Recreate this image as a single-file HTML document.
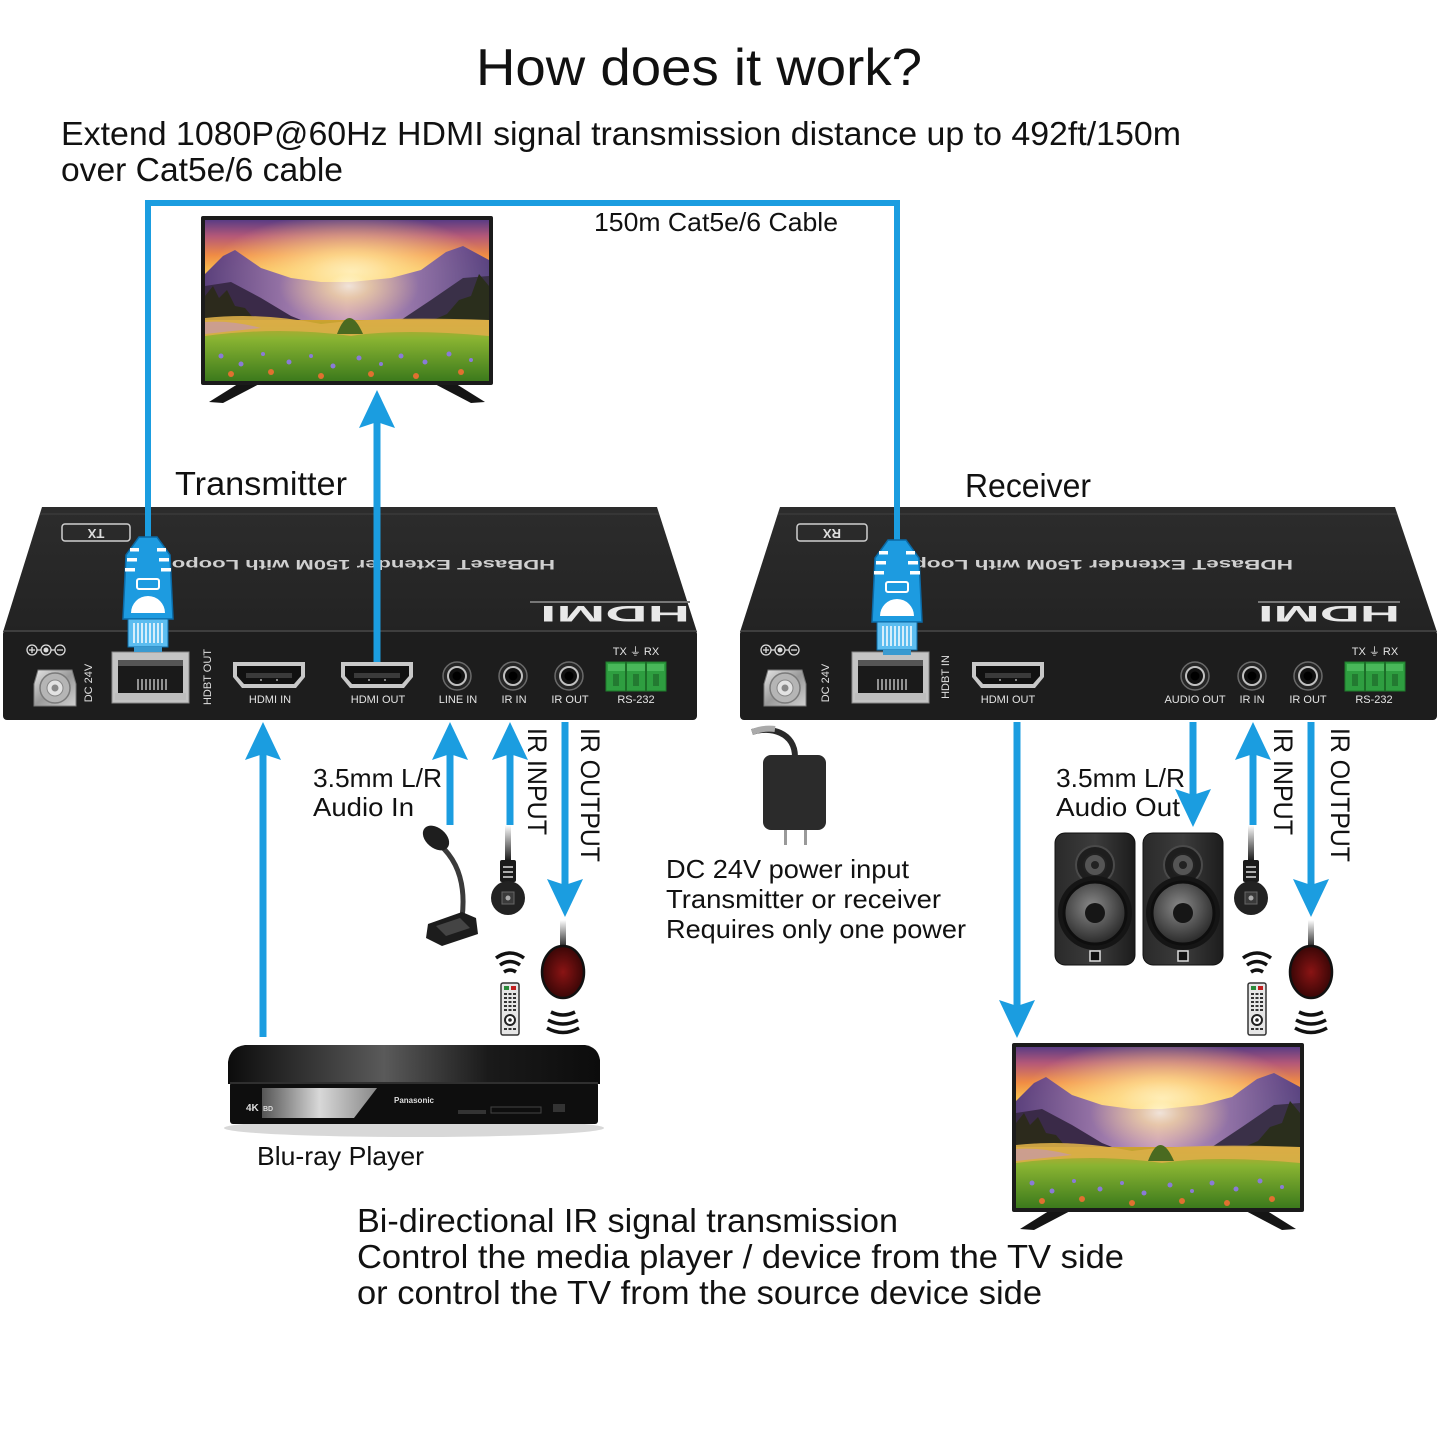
<!DOCTYPE html>
<html><head><meta charset="utf-8"><style>
html,body{margin:0;padding:0;background:#fff;}
svg{display:block;}
text{font-family:"Liberation Sans","DejaVu Sans",sans-serif;}
</style></head><body>
<svg width="1440" height="1440" viewBox="0 0 1440 1440" xmlns="http://www.w3.org/2000/svg">
<defs>
 <linearGradient id="sky" x1="0" y1="0" x2="0" y2="1">
  <stop offset="0" stop-color="#5a3c84"/>
  <stop offset="0.1" stop-color="#b45878"/>
  <stop offset="0.22" stop-color="#f08c44"/>
  <stop offset="0.32" stop-color="#f8c050"/>
  <stop offset="0.55" stop-color="#f4c870"/>
 </linearGradient>
 <radialGradient id="sun" cx="0.5" cy="0.5" r="0.5">
  <stop offset="0" stop-color="#fffbe0" stop-opacity="1"/>
  <stop offset="0.3" stop-color="#ffe498" stop-opacity="0.8"/>
  <stop offset="1" stop-color="#ffd080" stop-opacity="0"/>
 </radialGradient>
 <linearGradient id="mtn" x1="0" y1="0" x2="1" y2="0">
  <stop offset="0" stop-color="#4e3680"/>
  <stop offset="0.5" stop-color="#c096cc"/>
  <stop offset="1" stop-color="#4e3c86"/>
 </linearGradient>
 <linearGradient id="grass" x1="0" y1="0" x2="0" y2="1">
  <stop offset="0" stop-color="#d0a030"/>
  <stop offset="0.3" stop-color="#8ab432"/>
  <stop offset="1" stop-color="#3c7a1c"/>
 </linearGradient>
 <linearGradient id="topface" x1="0" y1="0" x2="0" y2="1">
  <stop offset="0" stop-color="#2c2c2c"/>
  <stop offset="1" stop-color="#232323"/>
 </linearGradient>
 <linearGradient id="silver" x1="0" y1="0" x2="1" y2="1">
  <stop offset="0" stop-color="#e6e6e6"/>
  <stop offset="0.5" stop-color="#9a9a9a"/>
  <stop offset="1" stop-color="#d0d0d0"/>
 </linearGradient>
 <linearGradient id="bluray" x1="0" y1="0" x2="1" y2="0">
  <stop offset="0" stop-color="#0c0c0c"/>
  <stop offset="0.42" stop-color="#5a5a5a"/>
  <stop offset="0.7" stop-color="#1a1a1a"/>
  <stop offset="1" stop-color="#0c0c0c"/>
 </linearGradient>
 <linearGradient id="brsilver" x1="0" y1="0" x2="1" y2="0">
  <stop offset="0" stop-color="#555"/>
  <stop offset="0.5" stop-color="#d8d8d8"/>
  <stop offset="1" stop-color="#888"/>
 </linearGradient>
 <linearGradient id="cablefade" x1="0" y1="0" x2="0" y2="1">
  <stop offset="0" stop-color="#fff"/>
  <stop offset="1" stop-color="#111"/>
 </linearGradient>
 <radialGradient id="woofer" cx="0.45" cy="0.4" r="0.6">
  <stop offset="0" stop-color="#8a8a8a"/>
  <stop offset="1" stop-color="#2a2a2a"/>
 </radialGradient>
 <radialGradient id="redeye" cx="0.5" cy="0.5" r="0.5">
  <stop offset="0" stop-color="#8a1414"/>
  <stop offset="1" stop-color="#3a0606"/>
 </radialGradient>
 <linearGradient id="spk" x1="0" y1="0" x2="1" y2="0">
  <stop offset="0" stop-color="#2a2a2a"/>
  <stop offset="0.5" stop-color="#3c3c3c"/>
  <stop offset="1" stop-color="#1c1c1c"/>
 </linearGradient>
 <clipPath id="scr"><rect x="4" y="4" width="284" height="161"/></clipPath>

 <g id="tv">
   <path d="M40,166 L8,186 L22,187 L62,166 Z" fill="#151515"/>
   <path d="M252,166 L284,186 L270,187 L230,166 Z" fill="#151515"/>
   <rect x="0" y="0" width="292" height="169" rx="2" fill="#1b1b1b"/>
   <g clip-path="url(#scr)">
     <rect x="4" y="4" width="284" height="161" fill="url(#sky)"/>
     <ellipse cx="150" cy="56" rx="140" ry="60" fill="url(#sun)"/>
     <path d="M4,58 L22,40 L34,34 L60,52 L90,62 L120,66 L150,66 L190,62 L220,54 L245,36 L262,30 L288,44 L288,130 L4,130 Z" fill="url(#mtn)" opacity="0.92"/>
     <ellipse cx="148" cy="70" rx="70" ry="40" fill="url(#sun)" opacity="0.75"/>
     <path d="M4,70 L30,66 L60,82 L90,100 L120,112 L4,118 Z" fill="#3a2a48"/>
     <path d="M288,60 L262,62 L230,84 L200,104 L175,112 L288,116 Z" fill="#3a3048"/>
     <path d="M4,80 L12,70 L18,82 L26,74 L34,90 L44,92 L54,104 L66,108 L4,120Z" fill="#2c2a1c"/>
     <path d="M288,70 L278,58 L270,80 L258,84 L246,98 L232,104 L288,118Z" fill="#2a2e1c"/>
     <rect x="4" y="104" width="284" height="61" fill="url(#grass)"/>
     <path d="M4,102 Q60,96 120,108 Q180,100 288,104 L288,120 Q200,112 150,120 Q80,110 4,120Z" fill="#dcae48" opacity="0.9"/>
     <path d="M4,106 Q30,104 60,112 L4,118Z" fill="#c89aa0" opacity="0.8"/>
     <path d="M136,118 Q148,86 162,118 Z" fill="#4a6a20"/>
     <g fill="#8a7ad8">
      <circle cx="20" cy="140" r="2.5"/><circle cx="40" cy="148" r="2.5"/><circle cx="62" cy="138" r="2"/>
      <circle cx="88" cy="146" r="2.5"/><circle cx="110" cy="140" r="2"/><circle cx="132" cy="150" r="2.5"/>
      <circle cx="158" cy="142" r="2.5"/><circle cx="180" cy="148" r="2"/><circle cx="200" cy="140" r="2.5"/>
      <circle cx="224" cy="146" r="2.5"/><circle cx="248" cy="138" r="2.5"/><circle cx="270" cy="144" r="2"/>
     </g>
     <g fill="#e07030">
      <circle cx="30" cy="158" r="3"/><circle cx="70" cy="156" r="3"/><circle cx="120" cy="160" r="3"/>
      <circle cx="170" cy="158" r="3"/><circle cx="215" cy="160" r="3"/><circle cx="260" cy="156" r="3"/>
     </g>
   </g>
 </g>

 <g id="plug">
  <path d="M-9,0 L9,0 L22,18 L25,82 L-25,82 L-22,18 Z" fill="#1d9be0" stroke="#0b6aa6" stroke-width="1.5"/>
  <g fill="#fff">
   <rect x="-18" y="11" width="9" height="3.5"/><rect x="9" y="11" width="9" height="3.5"/>
   <rect x="-21" y="21" width="10" height="3.5"/><rect x="11" y="21" width="10" height="3.5"/>
   <rect x="-23" y="31" width="10" height="3.5"/><rect x="13" y="31" width="10" height="3.5"/>
  </g>
  <rect x="-11" y="42" width="22" height="10" rx="2" fill="#1d9be0" stroke="#fff" stroke-width="2"/>
  <path d="M-17,76 A17,17 0 0 1 17,76 Z" fill="#fff"/>
  <rect x="-20" y="82" width="40" height="28" fill="#5cbdf0" stroke="#0b6aa6"/>
  <g stroke="#fff" stroke-width="1.5">
   <line x1="-14" y1="86" x2="-14" y2="106"/><line x1="-10" y1="86" x2="-10" y2="106"/>
   <line x1="-6" y1="86" x2="-6" y2="106"/><line x1="-2" y1="86" x2="-2" y2="106"/>
   <line x1="2" y1="86" x2="2" y2="106"/><line x1="6" y1="86" x2="6" y2="106"/>
   <line x1="10" y1="86" x2="10" y2="106"/><line x1="14" y1="86" x2="14" y2="106"/>
  </g>
  <rect x="-14" y="110" width="28" height="5" fill="#3a9ad0"/>
 </g>

 <g id="hdmiport">
  <path d="M-36,-13 L36,-13 L36,2 L27,13 L-27,13 L-36,2 Z" fill="#c8c8c8"/>
  <path d="M-32,-9 L32,-9 L32,1 L25,9 L-25,9 L-32,1 Z" fill="#111"/>
  <rect x="-23" y="-2" width="46" height="5" fill="#3a3a3a"/>
  <circle cx="-8" cy="5" r="1" fill="#aaa"/><circle cx="8" cy="5" r="1" fill="#aaa"/>
 </g>

 <g id="jack">
  <circle r="14" fill="#262626" stroke="#6a6a6a" stroke-width="1.5"/>
  <circle r="9" fill="#111" stroke="#c0c0c0" stroke-width="2"/>
  <circle r="4.5" fill="#000"/>
 </g>

 <g id="rj45">
  <rect x="0" y="0" width="77" height="51" fill="#c4c4c4" stroke="#888"/>
  <rect x="6" y="8" width="65" height="36" fill="#1a1a1a"/>
  <rect x="6" y="8" width="65" height="6" fill="#555"/>
  <g stroke="#bbb" stroke-width="1.5">
   <line x1="26" y1="27" x2="26" y2="38"/><line x1="30" y1="27" x2="30" y2="38"/>
   <line x1="34" y1="27" x2="34" y2="38"/><line x1="38" y1="27" x2="38" y2="38"/>
   <line x1="42" y1="27" x2="42" y2="38"/><line x1="46" y1="27" x2="46" y2="38"/>
   <line x1="50" y1="27" x2="50" y2="38"/><line x1="54" y1="27" x2="54" y2="38"/>
  </g>
  <rect x="3" y="41" width="71" height="7" fill="#bdbdbd"/>
 </g>

 <g id="dcjack">
  <path d="M-17,-18 L17,-18 L21,-4 L21,18 L-21,18 L-21,-4 Z" fill="url(#silver)" stroke="#777"/>
  <circle r="15" fill="#b5b5b5" stroke="#7a7a7a" stroke-width="1.5"/>
  <circle r="8" fill="#e2e2e2" stroke="#888"/>
  <circle r="3.5" fill="#888"/>
 </g>

 <g id="pol">
  <circle cx="0" cy="0" r="5" fill="none" stroke="#ddd" stroke-width="1.3"/>
  <line x1="-3" y1="0" x2="3" y2="0" stroke="#ddd" stroke-width="1.3"/><line x1="0" y1="-3" x2="0" y2="3" stroke="#ddd" stroke-width="1.3"/>
  <line x1="5" y1="0" x2="9" y2="0" stroke="#ddd" stroke-width="1.3"/>
  <circle cx="14" cy="0" r="5" fill="none" stroke="#ddd" stroke-width="1.3"/>
  <circle cx="14" cy="0" r="2.5" fill="#ddd"/>
  <line x1="19" y1="0" x2="23" y2="0" stroke="#ddd" stroke-width="1.3"/>
  <circle cx="28" cy="0" r="5" fill="none" stroke="#ddd" stroke-width="1.3"/>
  <line x1="25" y1="0" x2="31" y2="0" stroke="#ddd" stroke-width="1.3"/>
 </g>

 <g id="green">
  <rect x="0" y="0" width="60" height="29" fill="#2e9e40" stroke="#1f7a2c"/>
  <rect x="2" y="2" width="56" height="7" fill="#49b85a"/>
  <line x1="20" y1="0" x2="20" y2="29" stroke="#1c6e28" stroke-width="2"/>
  <line x1="40" y1="0" x2="40" y2="29" stroke="#1c6e28" stroke-width="2"/>
  <rect x="7" y="12" width="6" height="12" fill="#237a31"/><rect x="27" y="12" width="6" height="12" fill="#237a31"/><rect x="47" y="12" width="6" height="12" fill="#237a31"/>
 </g>

 <g id="irrecv">
  <rect x="-3" y="0" width="6" height="37" fill="url(#cablefade)"/>
  <rect x="-8" y="35" width="16" height="22" rx="2" fill="#1a1a1a"/>
  <g stroke="#ddd" stroke-width="1.5"><line x1="-5" y1="42" x2="5" y2="42"/><line x1="-5" y1="47" x2="5" y2="47"/><line x1="-5" y1="52" x2="5" y2="52"/></g>
  <circle cx="0" cy="73" r="17" fill="#222"/>
  <rect x="-6" y="67" width="12" height="12" fill="#3a3a3a" stroke="#666"/>
  <circle cx="0" cy="73" r="2.5" fill="#aaa"/>
 </g>

 <g id="remote">
  <path d="M-14,8 Q0,-2 14,8" fill="none" stroke="#111" stroke-width="3.5"/>
  <path d="M-10,15 Q0,8 10,15" fill="none" stroke="#111" stroke-width="3.5"/>
  <path d="M-6,22 Q0,18 6,22" fill="none" stroke="#111" stroke-width="3.5"/>
  <rect x="-9" y="33" width="18" height="52" rx="2" fill="#e6e6e6" stroke="#333" stroke-width="1.5"/>
  <rect x="-6" y="36" width="5" height="4" fill="#2a8a3a"/><rect x="1" y="36" width="5" height="4" fill="#c02020"/>
  <g fill="#333">
   <rect x="-6" y="43" width="3" height="2"/><rect x="-1.5" y="43" width="3" height="2"/><rect x="3" y="43" width="3" height="2"/>
   <rect x="-6" y="47" width="3" height="2"/><rect x="-1.5" y="47" width="3" height="2"/><rect x="3" y="47" width="3" height="2"/>
   <rect x="-6" y="51" width="3" height="2"/><rect x="-1.5" y="51" width="3" height="2"/><rect x="3" y="51" width="3" height="2"/>
   <rect x="-6" y="55" width="3" height="2"/><rect x="-1.5" y="55" width="3" height="2"/><rect x="3" y="55" width="3" height="2"/>
   <rect x="-6" y="59" width="3" height="2"/><rect x="-1.5" y="59" width="3" height="2"/><rect x="3" y="59" width="3" height="2"/>
   <rect x="-6" y="78" width="3" height="2"/><rect x="-1.5" y="78" width="3" height="2"/><rect x="3" y="78" width="3" height="2"/>
  </g>
  <circle cx="0" cy="70" r="5" fill="#fff" stroke="#222" stroke-width="2"/>
  <circle cx="0" cy="70" r="1.8" fill="#222"/>
 </g>

 <g id="emitter">
  <rect x="-3" y="0" width="6" height="30" fill="url(#cablefade)"/>
  <ellipse cx="0" cy="52" rx="21" ry="26" fill="url(#redeye)" stroke="#111" stroke-width="2.5"/>
  <path d="M-12,92 Q0,98 12,92" fill="none" stroke="#111" stroke-width="3.5"/>
  <path d="M-15,100 Q0,108 15,100" fill="none" stroke="#111" stroke-width="3.5"/>
  <path d="M-16,108 Q0,117 16,108" fill="none" stroke="#111" stroke-width="3.5"/>
 </g>

 <g id="speaker">
  <rect x="0" y="0" width="80" height="132" rx="10" fill="url(#spk)" stroke="#111"/>
  <circle cx="40" cy="32" r="19" fill="#1e1e1e" stroke="#4a4a4a" stroke-width="2"/>
  <circle cx="40" cy="32" r="11" fill="#555" stroke="#222" stroke-width="2"/>
  <circle cx="40" cy="32" r="4" fill="#222"/>
  <circle cx="40" cy="80" r="37" fill="#151515"/>
  <circle cx="40" cy="80" r="31" fill="url(#woofer)" stroke="#0e0e0e" stroke-width="3"/>
  <circle cx="40" cy="80" r="10" fill="#161616"/>
  <rect x="35" y="118" width="10" height="10" fill="#111" stroke="#ddd" stroke-width="1.5"/>
 </g>
</defs>

<rect width="1440" height="1440" fill="#fff"/>

<!-- Titles -->
<text x="476" y="85" font-size="52" fill="#111" textLength="446" lengthAdjust="spacingAndGlyphs">How does it work?</text>
<text x="61" y="145" font-size="33" fill="#111" textLength="1120" lengthAdjust="spacingAndGlyphs">Extend 1080P@60Hz HDMI signal transmission distance up to 492ft/150m</text>
<text x="61" y="181" font-size="33" fill="#111" textLength="282" lengthAdjust="spacingAndGlyphs">over Cat5e/6 cable</text>
<text x="594" y="231" font-size="26" fill="#111" textLength="244" lengthAdjust="spacingAndGlyphs">150m Cat5e/6 Cable</text>

<!-- TVs -->
<use href="#tv" transform="translate(201,216)"/>
<use href="#tv" transform="translate(1012,1043)"/>

<text x="175" y="495" font-size="33" fill="#111" textLength="172" lengthAdjust="spacingAndGlyphs">Transmitter</text>
<text x="965" y="497" font-size="33" fill="#111" textLength="126" lengthAdjust="spacingAndGlyphs">Receiver</text>

<!-- Transmitter box -->
<polygon points="42,507 657,507 697,632 3,632" fill="url(#topface)"/>
<line x1="40" y1="514" x2="659" y2="514" stroke="#3a3a3a" stroke-width="1.5"/>
<rect x="3" y="630" width="694" height="90" rx="4" fill="#1d1d1d"/>
<line x1="4" y1="631" x2="696" y2="631" stroke="#4a4a4a" stroke-width="1.5"/>
<rect x="62" y="524" width="68" height="17" rx="3" fill="none" stroke="#cfcfcf" stroke-width="1.5"/>
<text transform="translate(96,529) rotate(180)" font-size="13" font-weight="bold" fill="#ddd" text-anchor="middle">TX</text>
<text transform="translate(555,560) rotate(180)" font-family="Liberation Mono" font-size="14" font-weight="bold" fill="#d0d0d0" textLength="404" lengthAdjust="spacingAndGlyphs">HDBaseT Extender 150M with Loopout</text>
<rect x="530" y="601" width="160" height="2" fill="#777"/>
<text transform="translate(690,606) rotate(180)" font-size="22" font-weight="900" fill="#e8e8e8" textLength="150" lengthAdjust="spacingAndGlyphs">HDMI</text>

<use href="#pol" transform="translate(32,650)"/>
<use href="#dcjack" transform="translate(55,688)"/>
<text transform="translate(92,683) rotate(-90)" font-size="11" fill="#e0e0e0" text-anchor="middle">DC 24V</text>
<use href="#rj45" transform="translate(112,652)"/>
<text transform="translate(211,677) rotate(-90)" font-size="11" fill="#e0e0e0" text-anchor="middle">HDBT OUT</text>
<use href="#hdmiport" transform="translate(269,675)"/>
<use href="#hdmiport" transform="translate(377,675)"/>
<use href="#jack" transform="translate(457,676)"/>
<use href="#jack" transform="translate(513,676)"/>
<use href="#jack" transform="translate(569,676)"/>
<use href="#green" transform="translate(606,662)"/>
<g font-size="11" fill="#e4e4e4" text-anchor="middle">
 <text x="270" y="703">HDMI IN</text>
 <text x="378" y="703">HDMI OUT</text>
 <text x="458" y="703">LINE IN</text>
 <text x="514" y="703">IR IN</text>
 <text x="570" y="703">IR OUT</text>
 <text x="636" y="703">RS-232</text>
 <text x="636" y="655">TX ⏚ RX</text>
</g>

<!-- Receiver box -->
<polygon points="780,507 1395,507 1437,632 740,632" fill="url(#topface)"/>
<line x1="778" y1="514" x2="1397" y2="514" stroke="#3a3a3a" stroke-width="1.5"/>
<rect x="740" y="630" width="697" height="90" rx="4" fill="#1d1d1d"/>
<line x1="741" y1="631" x2="1436" y2="631" stroke="#4a4a4a" stroke-width="1.5"/>
<rect x="797" y="524" width="70" height="17" rx="3" fill="none" stroke="#cfcfcf" stroke-width="1.5"/>
<text transform="translate(832,529) rotate(180)" font-size="13" font-weight="bold" fill="#ddd" text-anchor="middle">RX</text>
<text transform="translate(1293,560) rotate(180)" font-family="Liberation Mono" font-size="14" font-weight="bold" fill="#d0d0d0" textLength="380" lengthAdjust="spacingAndGlyphs">HDBaseT Extender 150M with Loop</text>
<rect x="1258" y="601" width="142" height="2" fill="#777"/>
<text transform="translate(1400,606) rotate(180)" font-size="22" font-weight="900" fill="#e8e8e8" textLength="142" lengthAdjust="spacingAndGlyphs">HDMI</text>

<use href="#pol" transform="translate(766,650)"/>
<use href="#dcjack" transform="translate(785,688)"/>
<text transform="translate(829,683) rotate(-90)" font-size="11" fill="#e0e0e0" text-anchor="middle">DC 24V</text>
<use href="#rj45" transform="translate(852,652)"/>
<text transform="translate(949,677) rotate(-90)" font-size="11" fill="#e0e0e0" text-anchor="middle">HDBT IN</text>
<use href="#hdmiport" transform="translate(1008,675)"/>
<use href="#jack" transform="translate(1195,676)"/>
<use href="#jack" transform="translate(1252,676)"/>
<use href="#jack" transform="translate(1308,676)"/>
<use href="#green" transform="translate(1345,662)"/>
<g font-size="11" fill="#e4e4e4" text-anchor="middle">
 <text x="1008" y="703">HDMI OUT</text>
 <text x="1195" y="703">AUDIO OUT</text>
 <text x="1252" y="703">IR IN</text>
 <text x="1308" y="703">IR OUT</text>
 <text x="1374" y="703">RS-232</text>
 <text x="1375" y="655">TX ⏚ RX</text>
</g>

<!-- Cable -->
<g stroke="#1b9de0" stroke-width="6" fill="none">
 <polyline points="148,540 148,203 897,203 897,542"/>
</g>

<!-- Blue arrows -->
<g stroke="#1b9de0" stroke-width="7">
 <line x1="377" y1="662" x2="377" y2="420"/>
 <line x1="263" y1="1037" x2="263" y2="750"/>
 <line x1="450" y1="825" x2="450" y2="750"/>
 <line x1="510" y1="825" x2="510" y2="750"/>
 <line x1="565" y1="722" x2="565" y2="890"/>
 <line x1="1017" y1="722" x2="1017" y2="1010"/>
 <line x1="1193" y1="722" x2="1193" y2="800"/>
 <line x1="1253" y1="825" x2="1253" y2="750"/>
 <line x1="1311" y1="722" x2="1311" y2="890"/>
</g>
<g fill="#1b9de0">
 <polygon points="377,390 395,428 377,422 359,428"/>
 <polygon points="263,722 281,760 263,754 245,760"/>
 <polygon points="450,722 468,760 450,754 432,760"/>
 <polygon points="510,722 528,760 510,754 492,760"/>
 <polygon points="565,917 547,879 565,885 583,879"/>
 <polygon points="1017,1038 999,1000 1017,1006 1035,1000"/>
 <polygon points="1193,827 1175,789 1193,795 1211,789"/>
 <polygon points="1253,722 1271,760 1253,754 1235,760"/>
 <polygon points="1311,917 1293,879 1311,885 1329,879"/>
</g>

<!-- Plugs -->
<use href="#plug" transform="translate(148,537)"/>
<use href="#plug" transform="translate(897,540)"/>

<!-- Transmitter side labels -->
<text x="313" y="787" font-size="26" fill="#111" textLength="129" lengthAdjust="spacingAndGlyphs">3.5mm L/R</text>
<text x="313" y="816" font-size="26" fill="#111" textLength="101" lengthAdjust="spacingAndGlyphs">Audio In</text>
<text transform="translate(528,728) rotate(90)" font-size="27" fill="#111" textLength="107" lengthAdjust="spacingAndGlyphs">IR INPUT</text>
<text transform="translate(581,728) rotate(90)" font-size="27" fill="#111" textLength="134" lengthAdjust="spacingAndGlyphs">IR OUTPUT</text>

<!-- Receiver side labels -->
<text x="1056" y="787" font-size="26" fill="#111" textLength="129" lengthAdjust="spacingAndGlyphs">3.5mm L/R</text>
<text x="1056" y="816" font-size="26" fill="#111" textLength="124" lengthAdjust="spacingAndGlyphs">Audio Out</text>
<text transform="translate(1274,728) rotate(90)" font-size="27" fill="#111" textLength="107" lengthAdjust="spacingAndGlyphs">IR INPUT</text>
<text transform="translate(1331,728) rotate(90)" font-size="27" fill="#111" textLength="134" lengthAdjust="spacingAndGlyphs">IR OUTPUT</text>

<!-- Mic -->
<path d="M440,845 Q468,870 462,918" fill="none" stroke="#3a3a3a" stroke-width="5"/>
<ellipse cx="436" cy="838" rx="15" ry="10" transform="rotate(40 436 838)" fill="#1e1e1e"/>
<path d="M428,924 L462,912 L476,918 L478,934 L442,946 L426,938 Z" fill="#1c1c1c"/>
<path d="M436,926 L460,918 L470,928 L446,936 Z" fill="#555" opacity="0.7"/>

<!-- IR devices -->
<use href="#irrecv" transform="translate(508,825)"/>
<use href="#remote" transform="translate(510,950)"/>
<use href="#emitter" transform="translate(563,920)"/>
<use href="#irrecv" transform="translate(1251,825)"/>
<use href="#remote" transform="translate(1257,950)"/>
<use href="#emitter" transform="translate(1311,920)"/>

<!-- Speakers -->
<use href="#speaker" transform="translate(1055,833)"/>
<use href="#speaker" transform="translate(1143,833)"/>

<!-- Power adapter -->
<path d="M752,732 C770,726 795,732 795,757" fill="none" stroke="#2a2a2a" stroke-width="6"/>
<path d="M752,732 C760,729 768,728 775,729" fill="none" stroke="#aaa" stroke-width="6"/>
<rect x="763" y="755" width="63" height="75" rx="8" fill="#2b2b2b"/>
<rect x="784" y="830" width="3" height="15" fill="#999"/>
<rect x="804" y="830" width="3" height="15" fill="#999"/>
<text x="666" y="878" font-size="26" fill="#111" textLength="243" lengthAdjust="spacingAndGlyphs">DC 24V power input</text>
<text x="666" y="908" font-size="26" fill="#111" textLength="275" lengthAdjust="spacingAndGlyphs">Transmitter or receiver</text>
<text x="666" y="938" font-size="26" fill="#111" textLength="300" lengthAdjust="spacingAndGlyphs">Requires only one power</text>

<!-- Blu-ray player -->
<ellipse cx="414" cy="1128" rx="190" ry="9" fill="#d8d8d8"/>
<path d="M245,1045 L585,1045 Q598,1047 600,1060 L600,1084 L228,1084 L228,1062 Q230,1047 245,1045 Z" fill="url(#bluray)"/>
<rect x="230" y="1082" width="368" height="42" rx="3" fill="#0e0e0e"/>
<line x1="230" y1="1083" x2="598" y2="1083" stroke="#3a3a3a" stroke-width="1.5"/>
<polygon points="262,1088 377,1088 354,1118 262,1118" fill="url(#brsilver)"/>
<text x="246" y="1111" font-size="10" font-weight="bold" fill="#ddd">4K</text>
<text x="263" y="1111" font-size="7" font-weight="bold" fill="#ddd">BD</text>
<text x="414" y="1103" font-size="8" font-weight="bold" fill="#ddd" text-anchor="middle">Panasonic</text>
<rect x="458" y="1110" width="28" height="4" fill="#333"/>
<rect x="491" y="1107" width="50" height="6" fill="none" stroke="#444"/>
<rect x="553" y="1104" width="12" height="8" fill="#333"/>
<text x="257" y="1165" font-size="26" fill="#111" textLength="167" lengthAdjust="spacingAndGlyphs">Blu-ray Player</text>

<!-- Bottom text -->
<text x="357" y="1232" font-size="33" fill="#111" textLength="541" lengthAdjust="spacingAndGlyphs">Bi-directional IR signal transmission</text>
<text x="357" y="1268" font-size="33" fill="#111" textLength="767" lengthAdjust="spacingAndGlyphs">Control the media player / device from the TV side</text>
<text x="357" y="1304" font-size="33" fill="#111" textLength="685" lengthAdjust="spacingAndGlyphs">or control the TV from the source device side</text>
</svg>
</body></html>
